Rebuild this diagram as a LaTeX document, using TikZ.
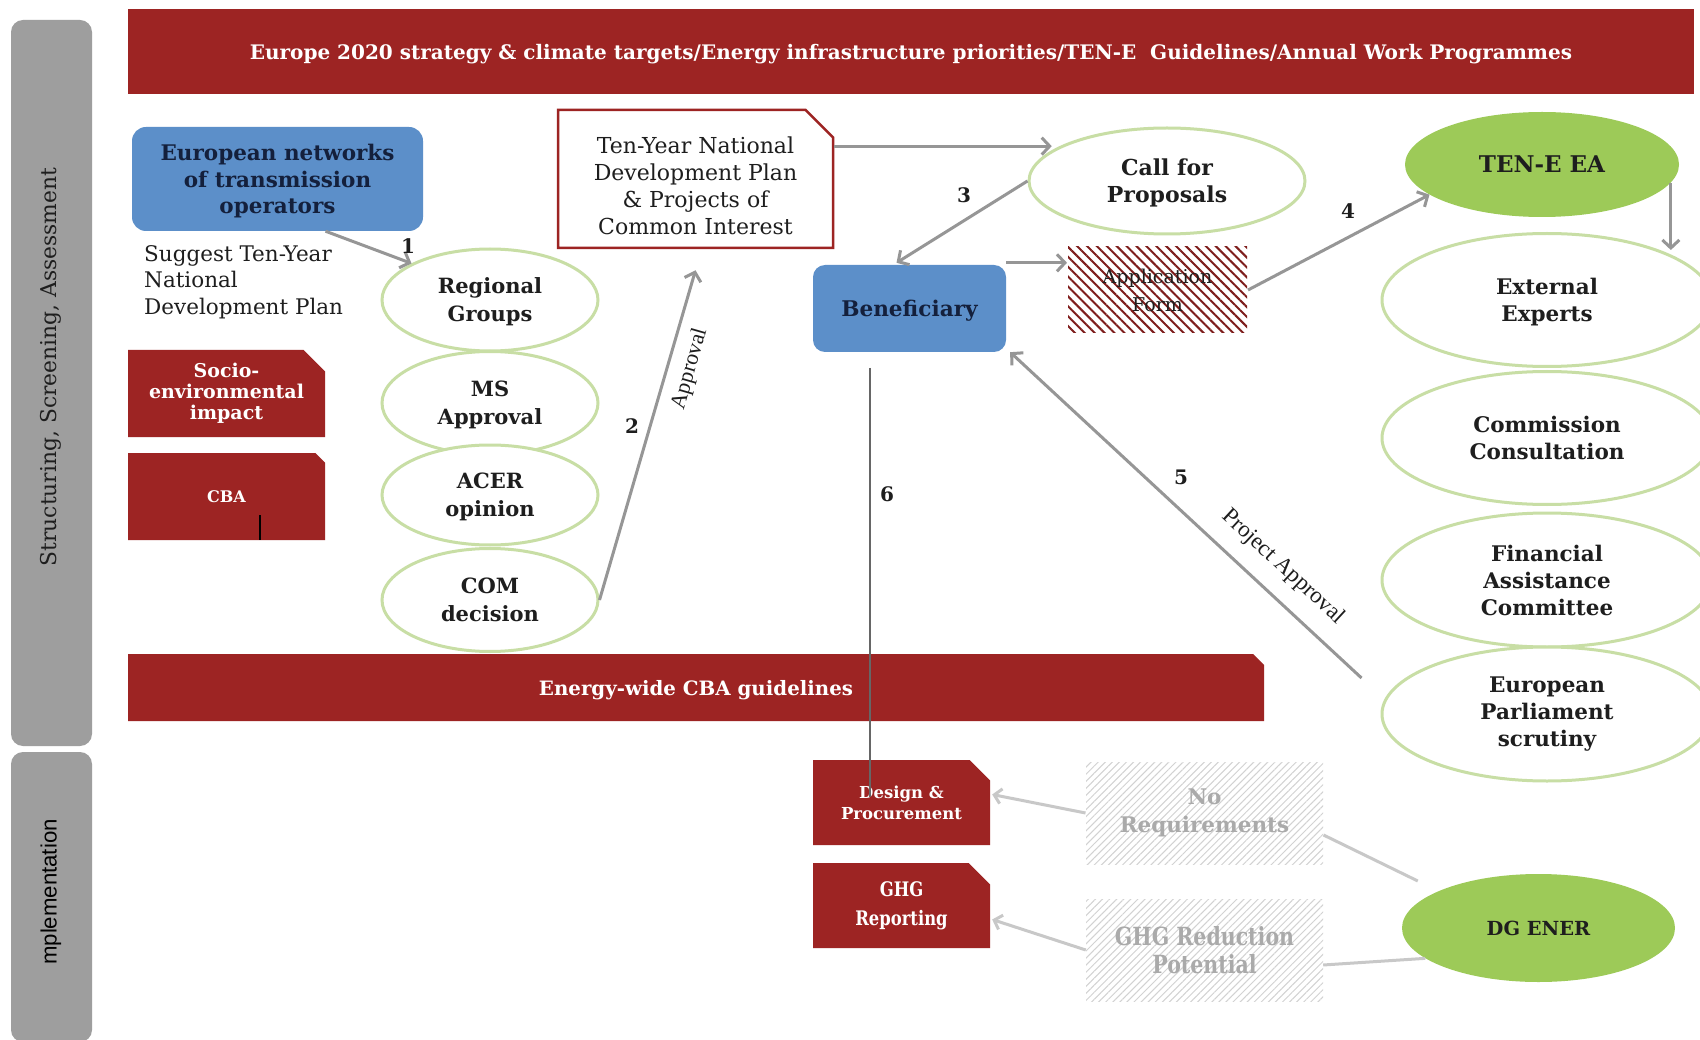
\documentclass[tikz,border=0pt]{standalone}
\usepackage{fontspec}
\setmainfont{DejaVu Serif}
\newfontfamily\lsans{Liberation Sans}
\newfontfamily\lserif{Liberation Serif}
\newfontfamily\cond[FakeStretch=0.82]{DejaVu Serif}
\usetikzlibrary{shapes.geometric,shapes.misc,arrows.meta,calc,patterns.meta}
\definecolor{redc}{RGB}{157,36,35}
\definecolor{bluec}{RGB}{92,143,201}
\definecolor{navy}{RGB}{20,32,60}
\definecolor{greenc}{RGB}{157,202,88}
\definecolor{greenl}{RGB}{200,222,165}
\definecolor{grayb}{RGB}{158,158,158}
\definecolor{arrg}{RGB}{150,150,150}
\definecolor{arrl}{RGB}{200,200,200}
\definecolor{hatchg}{RGB}{210,210,210}
\definecolor{txtg}{RGB}{170,170,170}
\definecolor{txtd}{RGB}{30,30,30}
\newcommand{\fsz}[2]{\fontsize{#1}{#2}\selectfont}
\begin{document}
\begin{tikzpicture}[x=1pt,y=-1pt,
  sidebar/.style={fill=grayb, rounded corners=12pt, inner sep=0pt},
  redbar/.style={fill=redc, inner sep=0pt, text=white, font=\fsz{20}{24}\bfseries},
  redbox/.style={chamfered rectangle, chamfered rectangle corners=north east,
     chamfered rectangle xsep=18pt, fill=redc, draw=none, text=white, align=center, inner sep=0pt},
  bluebox/.style={rectangle, rounded corners=14pt, fill=bluec, text=navy, align=center, inner sep=0pt},
  ell/.style={ellipse, draw=greenl, line width=3pt, fill=white, text=txtd, align=center, inner sep=0pt,
     font=\fsz{21}{28}\bfseries},
  rell/.style={ell, minimum width=330pt, minimum height=133pt, font=\fsz{21.5}{27}\bfseries},
  gell/.style={ellipse, fill=greenc, text=txtd, inner sep=0pt, font=\fsz{23}{26}\bfseries},
  hatchbox/.style={rectangle, inner sep=0pt, align=center, pattern={Lines[angle=45,distance=5pt,line width=1pt]},
     pattern color=hatchg, text=txtg, font=\fsz{21.5}{28}\bfseries},
  num/.style={text=txtd, font=\fsz{20}{24}\bfseries, inner sep=0pt},
  arr/.style={draw=arrg, line width=3pt, -{Straight Barb[length=8pt,width=17pt]}},
  arrlight/.style={draw=arrl, line width=3pt, -{Straight Barb[length=7pt,width=15pt]}},
  lnlight/.style={draw=arrl, line width=3pt},
]
\useasboundingbox (0,0) rectangle (1700,1040);
\clip (0,0) rectangle (1700,1040);
\fill[white] (0,0) rectangle (1700,1040);

% side bars
\node[sidebar, minimum width=81pt, minimum height=726pt] (sbar1) at (51.5,383) {};
\node[rotate=90, text=txtd, font=\fsz{21.8}{24}, inner sep=0pt] (sbar1t) at (51,367) {Structuring, Screening, Assessment};
\node[sidebar, minimum width=81pt, minimum height=290pt] (sbar2) at (51.5,897) {};
\node[rotate=90, text=black, font=\lsans\fsz{22.2}{24}, inner sep=0pt] (sbar2t) at (51,892) {mplementation};

% top bar
\node[redbar, minimum width=1566pt, minimum height=85pt, text depth=-3pt] (topbar) at (911,51.5)
  {Europe 2020 strategy \& climate targets/Energy infrastructure priorities/TEN-E\ \ Guidelines/Annual Work Programmes};

% left column
\node[bluebox, minimum width=291pt, minimum height=104pt, text depth=-8pt, font=\fsz{21.5}{26.5}\bfseries] (enets) at (277.5,179)
  {European networks\\of transmission\\operators};
\node[anchor=west, align=left, text=txtd, font=\fsz{21.5}{26.5}, inner sep=0pt] (suggest) at (144,282)
  {Suggest Ten-Year\\National\\Development Plan};
\node[redbox, minimum width=197pt, minimum height=87pt, font=\fsz{19}{21}\bfseries] (socio) at (226.5,393.5)
  {Socio-\\environmental\\impact};
\node[redbox, minimum width=197pt, minimum height=87pt, font=\fsz{16}{20}\bfseries] (cba) at (226.5,496.5) {CBA};
\coordinate (cbatick1) at (260,515);
\coordinate (cbatick2) at (260,540);
\draw[black, line width=1.2pt] (cbatick1) -- (cbatick2);

% ellipse column
\node[ell, minimum width=216pt, minimum height=102pt, text depth=-7pt] (regional) at (490,300) {Regional\\Groups};
\node[ell, minimum width=216pt, minimum height=103pt, text depth=-7pt] (ms) at (490,403) {MS\\Approval};
\node[ell, minimum width=216pt, minimum height=100pt, text depth=-7pt] (acer) at (490,495) {ACER\\opinion};
\node[ell, minimum width=216pt, minimum height=103pt] (com) at (490,600) {COM\\decision};

% energy bar
\node[redbox, chamfered rectangle xsep=8pt, minimum width=1136pt, minimum height=67pt, text depth=0pt, font=\fsz{19.8}{22}\bfseries] (energy) at (696,687.5)
  {Energy-wide CBA guidelines};

% ten-year box
\node[redbox, fill=white, draw=redc, line width=2.5pt, chamfered rectangle xsep=24pt, text=txtd,
      minimum width=275pt, minimum height=138pt, font=\fsz{22}{27}] (tenyear) at (695.5,179)
  {\rule{0pt}{30pt}Ten-Year National\\Development Plan\\\& Projects of\\Common Interest};

% middle
\node[ell, minimum width=276pt, minimum height=106pt, text depth=-2pt, font=\fsz{22}{27}\bfseries] (call) at (1167,181) {Call for\\Proposals};
\node[bluebox, minimum width=193pt, minimum height=87pt, rounded corners=12pt, text depth=0pt, font=\fsz{21.6}{24}\bfseries] (benef) at (909.5,308.5) {Beneficiary};
\node[rectangle, inner sep=0pt, minimum width=179pt, minimum height=86pt, align=center,
      pattern={Lines[angle=-45,distance=7pt,line width=2pt]}, pattern color=redc!80!black,
      text=txtd, font=\fsz{19}{28}] (appform) at (1157.5,290) {Application\\Form};

% right
\node[gell, minimum width=274pt, minimum height=105pt] (tenea) at (1542,164.5) {TEN-E EA};
\node[rell, text depth=-1pt] (extexp) at (1547,300) {External\\Experts};
\node[rell] (comcon) at (1547,438) {Commission\\Consultation};
\node[rell, minimum height=134pt] (fac) at (1547,580) {Financial\\Assistance\\Committee};
\node[rell, minimum height=134pt] (epar) at (1547,714) {European\\Parliament\\scrutiny};

% implementation
\node[redbox, minimum width=177pt, minimum height=85pt, font=\fsz{16.5}{21}\bfseries] (design) at (901.5,802.5) {Design \&\\Procurement};
\node[redbox, minimum width=177pt, minimum height=85pt, font=\cond\fsz{20}{29}\bfseries] (ghgrep) at (901.5,905.5) {GHG\\Reporting};
\node[hatchbox, minimum width=237pt, minimum height=102pt] (noreq) at (1204.5,813) {No\\Requirements};
\node[hatchbox, minimum width=237pt, minimum height=102pt, font=\cond\fsz{25}{28}\bfseries] (ghgred) at (1204.5,950) {GHG Reduction\\Potential};
\node[gell, minimum width=273pt, minimum height=108pt, font=\fsz{19.4}{24}\bfseries] (dgener) at (1538.5,928) {DG ENER};

% connectors
\draw[arr] ($(enets.south)+(48,0)$) -- (regional.155);
\node[num] (n1) at (408,246) {1};
\draw[arr] (com.east) -- ($(tenyear.south)+(0,21)$);
\node[num] (n2) at (632,426) {2};
\node[rotate=74, text=txtd, font=\lserif\fsz{22}{24}, inner sep=0pt] (lapp) at (690,369) {Approval};
\draw[arr, shorten >=8pt] (tenyear.east |- call.162) -- (call.162);
\draw[arr] (call.west) -- ($(benef.north)+(-13,-2)$);
\node[num] (n3) at (964,195) {3};
\draw[arr] ($(benef.north east)+(0,-2)$) -- (appform.west |- {$(benef.north east)+(0,-2)$});
\draw[arr] (appform.east) -- (tenea.195);
\node[num] (n4) at (1348,211) {4};
\coordinate (eadown) at (1666,250);
\draw[arr] (tenea.-8) -- (tenea.-8 |- eadown);
\draw[arr] ($(epar.west)+(-19,-36)$) -- ($(benef.south east)+(4,0)$);
\node[num] (n5) at (1181,477) {5};
\node[rotate=-42.7, text=txtd, font=\lserif\fsz{23}{24}, inner sep=0pt] (lproj) at (1283,567) {Project Approval};
\coordinate (l6a) at (870,368);
\coordinate (l6b) at (870,797);
\draw[draw=black!60, line width=2.5pt] (l6a) -- (l6b);
\node[num] (n6) at (887,494) {6};

\draw[lnlight] ($(dgener.west)+(16,-47)$) -- ($(noreq.east)+(0,22)$);
\draw[arrlight] (noreq.west) -- ($(design.east)+(2,-8)$);
\draw[lnlight] (dgener.195) -- ($(ghgred.east)+(0,15)$);
\draw[arrlight] (ghgred.west) -- ($(ghgrep.east)+(2,14)$);
\end{tikzpicture}
\end{document}
